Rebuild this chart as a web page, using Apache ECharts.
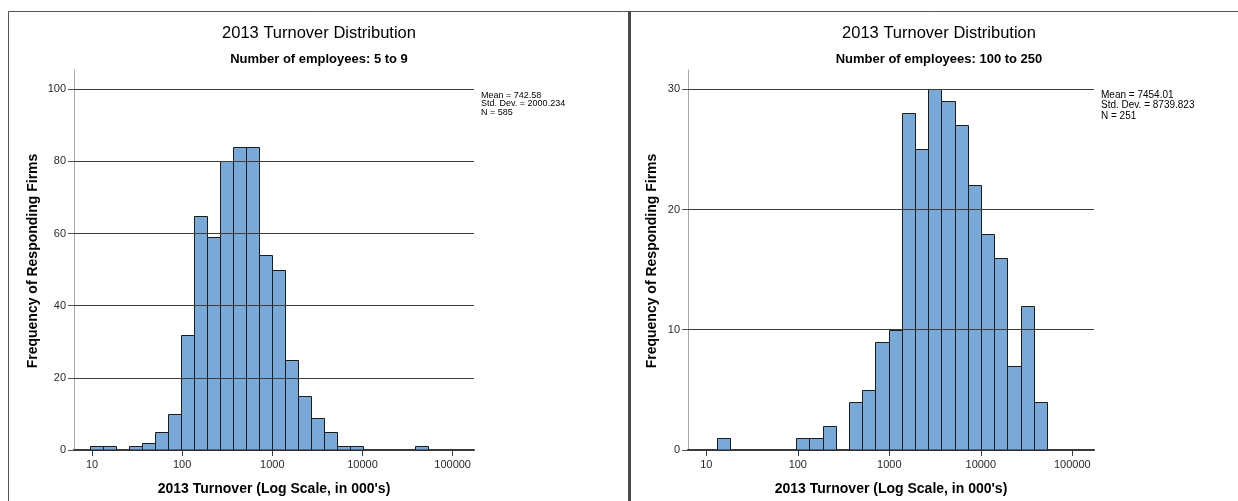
<!DOCTYPE html>
<html>
<head>
<meta charset="utf-8">
<script src="https://cdn.jsdelivr.net/npm/echarts@6/dist/echarts.min.js"></script>
<style>
html,body{margin:0;padding:0;background:#fff;}
#c{width:1238px;height:501px;}
</style>
</head>
<body>
<div id="c"></div>
<script>
// ---- data ----
const chartTitle = '2013 Turnover Distribution';
const leftSubtitle = 'Number of employees: 5 to 9';
const rightSubtitle = 'Number of employees: 100 to 250';
const xAxisTitle = "2013 Turnover (Log Scale, in 000's)";
const yAxisTitle = 'Frequency of Responding Firms';
const leftStats = ['Mean = 742.58', 'Std. Dev. = 2000.234', 'N = 585'];
const rightStats = ['Mean = 7454.01', 'Std. Dev. = 8739.823', 'N = 251'];

// histogram bins: constant width on log10(turnover)
const binWidthLog = 0.1443;
const leftBinStartLog = 0.978;
const rightBinStartLog = 1.116;
const leftCounts = [1,1,0,1,2,5,10,32,65,59,80,84,84,54,50,25,15,9,5,1,1,0,0,0,0,1];
const rightCounts = [1,0,0,0,0,0,1,1,2,0,4,5,9,10,28,25,30,29,27,22,18,16,7,12,4];

const xTickValues = [10, 100, 1000, 10000, 100000];
const leftYTicks = [0, 20, 40, 60, 80, 100];
const rightYTicks = [0, 10, 20, 30];

// ---- styles ----
const FONT = '"Liberation Sans", Arial, sans-serif';
const BAR_FILL = '#79aad7';
const BAR_STROKE = '#1c1c1c';
const GRID_COLOR = '#3c3c3c';

const xTickLog = xTickValues.map(v => Math.log10(v));

function binData(counts, start) {
  const out = [];
  counts.forEach((c, i) => {
    if (c > 0) out.push([start + i * binWidthLog, start + (i + 1) * binWidthLog, c]);
  });
  return out;
}

function renderBar(params, api) {
  const lo = api.value(0), hi = api.value(1), c = api.value(2);
  const p0 = api.coord([lo, c]);
  const p1 = api.coord([hi, 0]);
  const x0 = Math.round(p0[0]) + 0.5, x1 = Math.round(p1[0]) + 0.5;
  const y0 = Math.round(p0[1]) + 0.5, y1 = Math.round(p1[1]);
  return {
    type: 'rect',
    shape: { x: x0, y: y0, width: x1 - x0, height: y1 - y0 },
    style: { fill: BAR_FILL, stroke: BAR_STROKE, lineWidth: 1 }
  };
}

function xAxisCfg(gridIndex) {
  return {
    type: 'value', gridIndex, min: 0.80, max: 5.237,
    axisLine: { show: true, onZero: false, lineStyle: { color: '#3a3a3a', width: 2 } },
    axisTick: { show: true, inside: false, length: 6, customValues: xTickLog, lineStyle: { color: '#3a3a3a', width: 1 } },
    axisLabel: {
      show: true, customValues: xTickLog, margin: 9,
      formatter: v => String(Math.round(Math.pow(10, v))),
      color: '#2a2a2a', fontSize: 11, fontFamily: FONT
    },
    splitLine: { show: false }
  };
}

function yAxisCfg(gridIndex, max, ticks) {
  return {
    type: 'value', gridIndex, min: 0, max: max,
    axisLine: { show: true, lineStyle: { color: '#a8a8a8', width: 1 } },
    axisTick: { show: true, inside: false, length: 6, customValues: ticks, lineStyle: { color: '#555', width: 1 } },
    axisLabel: { show: true, customValues: ticks, margin: 8, color: '#2a2a2a', fontSize: 11, fontFamily: FONT },
    splitLine: { show: false }
  };
}

function gridMarkLines(ticks) {
  return {
    silent: true, symbol: 'none', label: { show: false },
    lineStyle: { color: GRID_COLOR, width: 1, type: 'solid' },
    animation: false,
    data: ticks.filter(t => t > 0).map(t => ({ yAxis: t }))
  };
}

function txt(x, y, text, size, weight, extra) {
  return Object.assign({
    type: 'text', x, y, silent: true,
    style: {
      text, fill: '#000', font: (weight || 'normal') + ' ' + size + 'px ' + FONT,
      textAlign: 'center', textVerticalAlign: 'middle'
    }
  }, extra || {});
}

const chart = echarts.init(document.getElementById('c'), null, { renderer: 'canvas' });
chart.setOption({
  animation: false,
  backgroundColor: '#fff',
  grid: [
    { left: 74, top: 70, width: 400, height: 380 },
    { left: 688, top: 70, width: 406, height: 380 }
  ],
  xAxis: [xAxisCfg(0), xAxisCfg(1)],
  yAxis: [yAxisCfg(0, 105.35, leftYTicks), yAxisCfg(1, 31.6, rightYTicks)],
  series: [
    {
      type: 'custom', xAxisIndex: 0, yAxisIndex: 0,
      data: binData(leftCounts, leftBinStartLog),
      encode: { x: [0, 1], y: 2 },
      renderItem: renderBar, z: 3,
      markLine: gridMarkLines(leftYTicks)
    },
    {
      type: 'custom', xAxisIndex: 1, yAxisIndex: 1,
      data: binData(rightCounts, rightBinStartLog),
      encode: { x: [0, 1], y: 2 },
      renderItem: renderBar, z: 3,
      markLine: gridMarkLines(rightYTicks)
    }
  ],
  graphic: [
    // frame lines
    { type: 'line', silent: true, shape: { x1: 8.5, y1: 11.5, x2: 1238, y2: 11.5 }, style: { stroke: '#555', lineWidth: 1 } },
    { type: 'line', silent: true, shape: { x1: 8.5, y1: 11.5, x2: 8.5, y2: 501 }, style: { stroke: '#555', lineWidth: 1 } },
    { type: 'line', silent: true, shape: { x1: 629.5, y1: 11, x2: 629.5, y2: 501 }, style: { stroke: '#4a4a4a', lineWidth: 3 } },
    // titles
    txt(319, 33.5, chartTitle, 16.5, 'normal'),
    txt(319, 59.5, leftSubtitle, 13, 'bold'),
    txt(939, 33.5, chartTitle, 16.5, 'normal'),
    txt(939, 59.5, rightSubtitle, 13, 'bold'),
    // axis names
    txt(274, 489, xAxisTitle, 14, 'bold'),
    txt(891, 489, xAxisTitle, 14, 'bold'),
    txt(33, 261, yAxisTitle, 14, 'bold', { rotation: Math.PI / 2 }),
    txt(652, 261, yAxisTitle, 14, 'bold', { rotation: Math.PI / 2 }),
    // stats
    {
      type: 'text', x: 481, y: 91, silent: true,
      style: { text: leftStats.join('\n'), fill: '#000', font: '9px ' + FONT, lineHeight: 8.5, textAlign: 'left', textVerticalAlign: 'top' }
    },
    {
      type: 'text', x: 1101, y: 90, silent: true,
      style: { text: rightStats.join('\n'), fill: '#000', font: '10px ' + FONT, lineHeight: 10.3, textAlign: 'left', textVerticalAlign: 'top' }
    }
  ]
});
</script>
</body>
</html>
